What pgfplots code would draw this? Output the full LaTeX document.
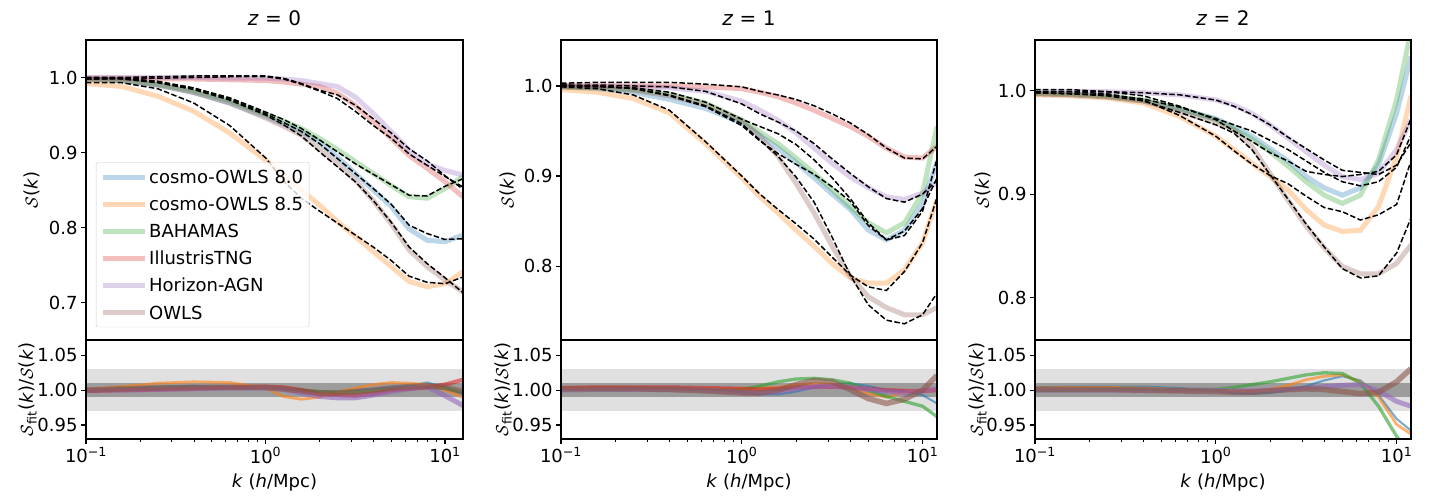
\documentclass[border=0pt]{standalone}
\usepackage{fontspec}
\setmainfont{DejaVu Sans}
\usepackage{pgfplots}
\usepackage{pgfplotstable}
\pgfplotsset{compat=1.18}
\definecolor{c0}{HTML}{1F77B4}
\definecolor{c1}{HTML}{FF7F0E}
\definecolor{c2}{HTML}{2CA02C}
\definecolor{c3}{HTML}{D62728}
\definecolor{c4}{HTML}{9467BD}
\definecolor{c5}{HTML}{8C564B}
\definecolor{bandlight}{HTML}{E0E0E0}
\definecolor{banddark}{HTML}{9C9C9C}
\newcommand{\myfs}{\fontsize{18pt}{21.6pt}\selectfont}
\newcommand{\mytfs}{\fontsize{20pt}{24pt}\selectfont}

% z = 0 : S(k) of each simulation, fits, and fit/S ratios
\pgfplotstableread{
k      b     o     g     r     p     w     fb    fo    fg    fr    fp    fw    rb    ro    rg    rr    rp    rw
0.1    0.998 0.992 0.998 0.999 1.000 0.998 0.999 0.993 0.998 0.998 1.000 0.998 1.001 1.001 1.000 0.999 1.000 1.000
0.1585 0.996 0.988 0.997 0.999 1.000 0.996 0.999 0.993 0.999 0.999 1.000 0.998 1.003 1.005 1.002 1.000 1.000 1.002
0.2512 0.990 0.975 0.991 0.998 1.000 0.990 0.995 0.985 0.994 0.999 1.001 0.993 1.005 1.010 1.003 1.001 1.001 1.003
0.3981 0.980 0.955 0.982 0.998 1.000 0.980 0.986 0.966 0.986 1.000 1.002 0.984 1.006 1.012 1.004 1.002 1.002 1.004
0.631  0.966 0.926 0.969 0.997 0.999 0.966 0.971 0.936 0.973 1.001 1.002 0.970 1.005 1.011 1.004 1.004 1.003 1.004
1.0    0.948 0.890 0.951 0.996 0.999 0.946 0.952 0.893 0.954 1.001 1.002 0.950 1.004 1.003 1.003 1.005 1.003 1.004
1.259  0.938 0.870 0.942 0.994 0.998 0.935 0.940 0.862 0.944 0.998 0.999 0.937 1.002 0.991 1.002 1.004 1.001 1.002
1.585  0.928 0.850 0.932 0.991 0.996 0.923 0.928 0.839 0.932 0.991 0.992 0.922 1.000 0.987 1.000 1.000 0.996 0.999
1.995  0.914 0.830 0.919 0.988 0.992 0.905 0.912 0.822 0.917 0.982 0.983 0.901 0.998 0.990 0.998 0.994 0.991 0.996
2.512  0.894 0.808 0.904 0.979 0.988 0.885 0.892 0.806 0.901 0.972 0.977 0.881 0.998 0.997 0.997 0.993 0.989 0.996
3.162  0.872 0.788 0.888 0.963 0.974 0.863 0.872 0.790 0.885 0.955 0.963 0.861 1.000 1.003 0.997 0.992 0.989 0.998
3.981  0.850 0.768 0.872 0.941 0.952 0.836 0.852 0.774 0.871 0.936 0.945 0.836 1.002 1.008 0.999 0.995 0.993 1.000
5.012  0.828 0.748 0.856 0.919 0.928 0.805 0.831 0.756 0.857 0.919 0.926 0.807 1.004 1.011 1.001 1.000 0.998 1.003
6.310  0.798 0.728 0.841 0.896 0.903 0.770 0.803 0.735 0.843 0.898 0.905 0.774 1.006 1.010 1.002 1.002 1.002 1.005
7.943  0.783 0.721 0.839 0.879 0.885 0.748 0.792 0.727 0.842 0.883 0.889 0.752 1.011 1.008 1.004 1.004 1.005 1.006
10.0   0.781 0.725 0.852 0.861 0.876 0.730 0.784 0.725 0.855 0.868 0.869 0.733 1.004 1.000 1.003 1.008 0.992 1.004
12.59  0.790 0.741 0.868 0.841 0.870 0.714 0.785 0.734 0.865 0.854 0.851 0.713 0.994 0.990 0.997 1.015 0.978 0.998
}\tzero

% z = 1
\pgfplotstableread{
k      b     o     g     r     p     w     fb    fo    fg    fr    fp    fw    rb    ro    rg    rr    rp    rw
0.1    0.999 0.996 0.999 1.000 1.000 0.999 1.001 0.999 1.000 1.003 1.000 1.001 1.002 1.003 1.001 1.003 1.000 1.002
0.1585 0.997 0.993 0.998 1.000 1.000 0.998 1.000 0.997 0.999 1.004 1.001 1.000 1.003 1.004 1.001 1.004 1.001 1.002
0.2512 0.993 0.986 0.996 1.000 0.999 0.995 0.997 0.990 0.998 1.004 1.000 0.997 1.004 1.004 1.002 1.004 1.001 1.002
0.3981 0.985 0.970 0.991 1.000 0.998 0.989 0.989 0.973 0.993 1.004 0.999 0.990 1.004 1.003 1.002 1.004 1.001 1.001
0.631  0.975 0.936 0.981 0.999 0.994 0.979 0.977 0.938 0.982 1.002 0.994 0.978 1.002 1.002 1.001 1.003 1.000 0.999
1.0    0.959 0.898 0.962 0.997 0.983 0.962 0.956 0.900 0.963 0.999 0.980 0.958 0.997 1.002 1.001 1.002 0.997 0.996
1.259  0.945 0.877 0.949 0.993 0.973 0.944 0.939 0.880 0.955 0.994 0.969 0.940 0.994 1.003 1.006 1.001 0.996 0.996
1.585  0.931 0.859 0.936 0.988 0.962 0.922 0.925 0.863 0.947 0.990 0.960 0.922 0.994 1.004 1.012 1.002 0.998 1.000
1.995  0.915 0.840 0.920 0.981 0.948 0.892 0.913 0.847 0.935 0.985 0.950 0.899 0.998 1.008 1.016 1.004 1.002 1.008
2.512  0.898 0.822 0.903 0.973 0.931 0.859 0.902 0.830 0.918 0.978 0.936 0.871 1.004 1.010 1.017 1.005 1.005 1.014
3.162  0.880 0.803 0.885 0.964 0.914 0.822 0.888 0.810 0.898 0.969 0.919 0.832 1.009 1.009 1.015 1.005 1.006 1.012
3.981  0.863 0.787 0.866 0.955 0.899 0.789 0.872 0.790 0.875 0.959 0.903 0.790 1.010 1.004 1.010 1.004 1.004 1.001
5.012  0.840 0.781 0.848 0.944 0.887 0.766 0.845 0.777 0.848 0.946 0.888 0.757 1.006 0.995 1.000 1.002 1.001 0.988
6.310  0.829 0.781 0.837 0.931 0.877 0.754 0.829 0.773 0.829 0.931 0.875 0.740 1.000 0.990 0.991 1.000 0.998 0.981
7.943  0.840 0.796 0.848 0.921 0.874 0.746 0.839 0.794 0.834 0.920 0.871 0.736 0.999 0.997 0.984 0.999 0.996 0.987
10.0   0.870 0.826 0.881 0.920 0.881 0.746 0.864 0.826 0.861 0.919 0.880 0.746 0.993 1.000 0.977 0.999 0.999 1.000
12.02  0.915 0.874 0.955 0.933 0.893 0.754 0.898 0.876 0.919 0.933 0.895 0.770 0.981 1.002 0.962 1.000 1.002 1.021
}\tone

% z = 2 (no IllustrisTNG)
\pgfplotstableread{
k      b     o     g     p     w     fb    fo    fg    fp    fw    rb    ro    rg    rp    rw
0.1    0.997 0.996 0.998 0.999 0.997 1.001 0.999 0.998 0.999 0.998 1.004 1.003 1.000 1.000 1.001
0.1585 0.996 0.995 0.997 0.999 0.996 1.001 0.999 0.997 0.999 0.997 1.005 1.004 1.000 1.000 1.001
0.2512 0.994 0.993 0.995 0.999 0.994 0.999 0.997 0.996 0.999 0.995 1.005 1.004 1.001 1.000 1.001
0.3981 0.990 0.988 0.991 0.998 0.990 0.995 0.991 0.992 0.998 0.990 1.005 1.003 1.001 1.000 1.000
0.631  0.982 0.975 0.983 0.996 0.980 0.985 0.976 0.984 0.996 0.979 1.003 1.001 1.001 1.000 0.999
1.0    0.973 0.956 0.972 0.991 0.969 0.972 0.956 0.973 0.991 0.967 0.999 1.000 1.001 1.000 0.998
1.259  0.965 0.943 0.963 0.986 0.962 0.961 0.942 0.967 0.985 0.959 0.996 0.999 1.004 0.999 0.997
1.585  0.956 0.930 0.953 0.978 0.946 0.951 0.929 0.961 0.977 0.943 0.995 0.999 1.008 0.999 0.997
1.995  0.944 0.917 0.941 0.967 0.920 0.940 0.918 0.952 0.967 0.919 0.996 1.001 1.012 1.000 0.999
2.512  0.932 0.904 0.927 0.954 0.894 0.932 0.910 0.943 0.955 0.895 1.000 1.007 1.017 1.001 1.001
3.162  0.917 0.885 0.912 0.941 0.869 0.922 0.898 0.932 0.944 0.871 1.006 1.015 1.022 1.003 1.002
3.981  0.906 0.870 0.899 0.928 0.848 0.919 0.887 0.921 0.933 0.849 1.014 1.020 1.025 1.005 1.001
5.012  0.899 0.864 0.891 0.917 0.830 0.917 0.883 0.912 0.923 0.828 1.020 1.022 1.024 1.007 0.998
6.310  0.906 0.865 0.899 0.914 0.823 0.919 0.875 0.908 0.921 0.819 1.014 1.012 1.010 1.008 0.995
7.943  0.928 0.888 0.933 0.920 0.823 0.922 0.880 0.912 0.919 0.821 0.993 0.991 0.977 0.999 0.997
10.0   0.978 0.936 0.991 0.943 0.833 0.938 0.890 0.926 0.928 0.843 0.959 0.951 0.934 0.984 1.012
12.02  1.033 0.995 1.058 0.972 0.851 0.973 0.932 0.957 0.950 0.877 0.942 0.937 0.905 0.977 1.031
}\ttwo

\begin{document}
\begin{tikzpicture}
\path[use as bounding box] (0,0) rectangle (1440pt,500pt);

% ---------------- z = 0 top ----------------
\begin{axis}[scale only axis, width=377pt, height=300pt, at={(86pt,160pt)}, anchor=south west,
  xmode=log, xmin=0.1, xmax=12.59, ymin=0.65, ymax=1.05,
  axis on top, axis line style={line width=2.5pt},
  tick align=outside, ytick pos=left, xtick=\empty,
  major tick length=5pt, major tick style={black, line width=1.2pt},
  ytick={0.7,0.8,0.9,1.0}, yticklabels={0.7,0.8,0.9,1.0},
  yticklabel style={font=\myfs},
  title={\textit{z} = 0},
  title style={font=\mytfs, at={(0.5,1)}, anchor=base, yshift=8.5pt},
  ylabel={$\mathcal{S}$(\textit{k})},
  ylabel style={font=\myfs, at={(axis description cs:-0.143,0.5)}, anchor=center},
  legend cell align=left,
  legend image code/.code={\draw[#1] (0pt,0pt) -- (42pt,0pt);},
  legend style={at={(axis description cs:0.0265,0.593)}, anchor=north west,
    font=\myfs, draw=black!20, fill=white, fill opacity=0.8, text opacity=1,
    rounded corners=2pt,
    inner xsep=4pt, inner ysep=4.5pt, row sep=6.4pt}]
\addplot[c0, line width=5pt, draw opacity=0.3] table[x=k,y=b]{\tzero}; \addlegendentry{\strut cosmo-OWLS 8.0}
\addplot[c1, line width=5pt, draw opacity=0.3] table[x=k,y=o]{\tzero}; \addlegendentry{\strut cosmo-OWLS 8.5}
\addplot[c2, line width=5pt, draw opacity=0.3] table[x=k,y=g]{\tzero}; \addlegendentry{\strut BAHAMAS}
\addplot[c3, line width=5pt, draw opacity=0.3] table[x=k,y=r]{\tzero}; \addlegendentry{\strut IllustrisTNG}
\addplot[c4, line width=5pt, draw opacity=0.3] table[x=k,y=p]{\tzero}; \addlegendentry{\strut Horizon-AGN}
\addplot[c5, line width=5pt, draw opacity=0.3] table[x=k,y=w]{\tzero}; \addlegendentry{\strut OWLS}
\addplot[black, line width=1.5pt, dash pattern=on 5.5pt off 2.4pt, forget plot] table[x=k,y=fb]{\tzero};
\addplot[black, line width=1.5pt, dash pattern=on 5.5pt off 2.4pt, forget plot] table[x=k,y=fo]{\tzero};
\addplot[black, line width=1.5pt, dash pattern=on 5.5pt off 2.4pt, forget plot] table[x=k,y=fg]{\tzero};
\addplot[black, line width=1.5pt, dash pattern=on 5.5pt off 2.4pt, forget plot] table[x=k,y=fr]{\tzero};
\addplot[black, line width=1.5pt, dash pattern=on 5.5pt off 2.4pt, forget plot] table[x=k,y=fp]{\tzero};
\addplot[black, line width=1.5pt, dash pattern=on 5.5pt off 2.4pt, forget plot] table[x=k,y=fw]{\tzero};
\end{axis}

% ---------------- z = 0 bottom ----------------
\begin{axis}[scale only axis, width=377pt, height=99pt, at={(86pt,61pt)}, anchor=south west,
  xmode=log, xmin=0.1, xmax=12.59, ymin=0.93, ymax=1.072,
  axis on top, axis line style={line width=2.5pt},
  tick align=outside, xtick pos=bottom, ytick pos=left,
  major tick length=5pt, minor tick length=3pt,
  major tick style={black, line width=1.2pt}, minor tick style={black, line width=0.8pt},
  ytick={0.95,1.0,1.05}, yticklabels={0.95,1.00,1.05},
  xtick={0.1,1,10}, xticklabels={10\textsuperscript{−1},10\textsuperscript{0},10\textsuperscript{1}},
  ticklabel style={font=\myfs},
  xlabel={\textit{k} (\textit{h}/Mpc)},
  xlabel style={font=\myfs, at={(axis description cs:0.5,0)}, anchor=base, yshift=-49pt},
  ylabel={$\mathcal{S}$\textsubscript{fit}(\textit{k})/$\mathcal{S}$(\textit{k})},
  ylabel style={font=\myfs, at={(axis description cs:-0.154,0.5)}, anchor=center}]
\addplot[draw=none, fill=bandlight, forget plot] coordinates {(0.1,0.97) (13,0.97) (13,1.03) (0.1,1.03)} -- cycle;
\addplot[draw=none, fill=banddark, forget plot] coordinates {(0.1,0.99) (13,0.99) (13,1.01) (0.1,1.01)} -- cycle;
\addplot[c0, line width=2.1pt, draw opacity=0.6] table[x=k,y=rb]{\tzero};
\addplot[c1, line width=2.8pt, draw opacity=0.6] table[x=k,y=ro]{\tzero};
\addplot[c2, line width=3.3pt, draw opacity=0.6] table[x=k,y=rg]{\tzero};
\addplot[c3, line width=4.2pt, draw opacity=0.6] table[x=k,y=rr]{\tzero};
\addplot[c4, line width=4.9pt, draw opacity=0.6] table[x=k,y=rp]{\tzero};
\addplot[c5, line width=5.6pt, draw opacity=0.6] table[x=k,y=rw]{\tzero};
\end{axis}

% ---------------- z = 1 top ----------------
\begin{axis}[scale only axis, width=376pt, height=300pt, at={(561pt,160pt)}, anchor=south west,
  xmode=log, xmin=0.1, xmax=12.02, ymin=0.718, ymax=1.051,
  axis on top, axis line style={line width=2.5pt},
  tick align=outside, ytick pos=left, xtick=\empty,
  major tick length=5pt, major tick style={black, line width=1.2pt},
  ytick={0.8,0.9,1.0}, yticklabels={0.8,0.9,1.0},
  yticklabel style={font=\myfs},
  title={\textit{z} = 1},
  title style={font=\mytfs, at={(0.5,1)}, anchor=base, yshift=8.5pt},
  ylabel={$\mathcal{S}$(\textit{k})},
  ylabel style={font=\myfs, at={(axis description cs:-0.141,0.5)}, anchor=center}]
\addplot[c0, line width=5pt, draw opacity=0.3] table[x=k,y=b]{\tone};
\addplot[c1, line width=5pt, draw opacity=0.3] table[x=k,y=o]{\tone};
\addplot[c2, line width=5pt, draw opacity=0.3] table[x=k,y=g]{\tone};
\addplot[c3, line width=5pt, draw opacity=0.3] table[x=k,y=r]{\tone};
\addplot[c4, line width=5pt, draw opacity=0.3] table[x=k,y=p]{\tone};
\addplot[c5, line width=5pt, draw opacity=0.3] table[x=k,y=w]{\tone};
\addplot[black, line width=1.5pt, dash pattern=on 5.5pt off 2.4pt] table[x=k,y=fb]{\tone};
\addplot[black, line width=1.5pt, dash pattern=on 5.5pt off 2.4pt] table[x=k,y=fo]{\tone};
\addplot[black, line width=1.5pt, dash pattern=on 5.5pt off 2.4pt] table[x=k,y=fg]{\tone};
\addplot[black, line width=1.5pt, dash pattern=on 5.5pt off 2.4pt] table[x=k,y=fr]{\tone};
\addplot[black, line width=1.5pt, dash pattern=on 5.5pt off 2.4pt] table[x=k,y=fp]{\tone};
\addplot[black, line width=1.5pt, dash pattern=on 5.5pt off 2.4pt] table[x=k,y=fw]{\tone};
\end{axis}

% ---------------- z = 1 bottom ----------------
\begin{axis}[scale only axis, width=376pt, height=99pt, at={(561pt,61pt)}, anchor=south west,
  xmode=log, xmin=0.1, xmax=12.02, ymin=0.93, ymax=1.072,
  axis on top, axis line style={line width=2.5pt},
  tick align=outside, xtick pos=bottom, ytick pos=left,
  major tick length=5pt, minor tick length=3pt,
  major tick style={black, line width=1.2pt}, minor tick style={black, line width=0.8pt},
  ytick={0.95,1.0,1.05}, yticklabels={0.95,1.00,1.05},
  xtick={0.1,1,10}, xticklabels={10\textsuperscript{−1},10\textsuperscript{0},10\textsuperscript{1}},
  ticklabel style={font=\myfs},
  xlabel={\textit{k} (\textit{h}/Mpc)},
  xlabel style={font=\myfs, at={(axis description cs:0.5,0)}, anchor=base, yshift=-49pt},
  ylabel={$\mathcal{S}$\textsubscript{fit}(\textit{k})/$\mathcal{S}$(\textit{k})},
  ylabel style={font=\myfs, at={(axis description cs:-0.154,0.5)}, anchor=center}]
\addplot[draw=none, fill=bandlight] coordinates {(0.1,0.97) (13,0.97) (13,1.03) (0.1,1.03)} -- cycle;
\addplot[draw=none, fill=banddark] coordinates {(0.1,0.99) (13,0.99) (13,1.01) (0.1,1.01)} -- cycle;
\addplot[c0, line width=2.1pt, draw opacity=0.6] table[x=k,y=rb]{\tone};
\addplot[c1, line width=2.8pt, draw opacity=0.6] table[x=k,y=ro]{\tone};
\addplot[c2, line width=3.3pt, draw opacity=0.6] table[x=k,y=rg]{\tone};
\addplot[c3, line width=4.2pt, draw opacity=0.6] table[x=k,y=rr]{\tone};
\addplot[c4, line width=4.9pt, draw opacity=0.6] table[x=k,y=rp]{\tone};
\addplot[c5, line width=5.6pt, draw opacity=0.6] table[x=k,y=rw]{\tone};
\end{axis}

% ---------------- z = 2 top ----------------
\begin{axis}[scale only axis, width=376pt, height=300pt, at={(1035pt,160pt)}, anchor=south west,
  xmode=log, xmin=0.1, xmax=12.02, ymin=0.759, ymax=1.049,
  axis on top, axis line style={line width=2.5pt},
  tick align=outside, ytick pos=left, xtick=\empty,
  major tick length=5pt, major tick style={black, line width=1.2pt},
  ytick={0.8,0.9,1.0}, yticklabels={0.8,0.9,1.0},
  yticklabel style={font=\myfs},
  title={\textit{z} = 2},
  title style={font=\mytfs, at={(0.5,1)}, anchor=base, yshift=8.5pt},
  ylabel={$\mathcal{S}$(\textit{k})},
  ylabel style={font=\myfs, at={(axis description cs:-0.138,0.5)}, anchor=center}]
\addplot[c0, line width=5pt, draw opacity=0.3] table[x=k,y=b]{\ttwo};
\addplot[c1, line width=5pt, draw opacity=0.3] table[x=k,y=o]{\ttwo};
\addplot[c2, line width=5pt, draw opacity=0.3] table[x=k,y=g]{\ttwo};
\addplot[c4, line width=5pt, draw opacity=0.3] table[x=k,y=p]{\ttwo};
\addplot[c5, line width=5pt, draw opacity=0.3] table[x=k,y=w]{\ttwo};
\addplot[black, line width=1.5pt, dash pattern=on 5.5pt off 2.4pt] table[x=k,y=fb]{\ttwo};
\addplot[black, line width=1.5pt, dash pattern=on 5.5pt off 2.4pt] table[x=k,y=fo]{\ttwo};
\addplot[black, line width=1.5pt, dash pattern=on 5.5pt off 2.4pt] table[x=k,y=fg]{\ttwo};
\addplot[black, line width=1.5pt, dash pattern=on 5.5pt off 2.4pt] table[x=k,y=fp]{\ttwo};
\addplot[black, line width=1.5pt, dash pattern=on 5.5pt off 2.4pt] table[x=k,y=fw]{\ttwo};
\end{axis}

% ---------------- z = 2 bottom ----------------
\begin{axis}[scale only axis, width=376pt, height=99pt, at={(1035pt,61pt)}, anchor=south west,
  xmode=log, xmin=0.1, xmax=12.02, ymin=0.93, ymax=1.072,
  axis on top, axis line style={line width=2.5pt},
  tick align=outside, xtick pos=bottom, ytick pos=left,
  major tick length=5pt, minor tick length=3pt,
  major tick style={black, line width=1.2pt}, minor tick style={black, line width=0.8pt},
  ytick={0.95,1.0,1.05}, yticklabels={0.95,1.00,1.05},
  xtick={0.1,1,10}, xticklabels={10\textsuperscript{−1},10\textsuperscript{0},10\textsuperscript{1}},
  ticklabel style={font=\myfs},
  xlabel={\textit{k} (\textit{h}/Mpc)},
  xlabel style={font=\myfs, at={(axis description cs:0.5,0)}, anchor=base, yshift=-49pt},
  ylabel={$\mathcal{S}$\textsubscript{fit}(\textit{k})/$\mathcal{S}$(\textit{k})},
  ylabel style={font=\myfs, at={(axis description cs:-0.152,0.5)}, anchor=center}]
\addplot[draw=none, fill=bandlight] coordinates {(0.1,0.97) (13,0.97) (13,1.03) (0.1,1.03)} -- cycle;
\addplot[draw=none, fill=banddark] coordinates {(0.1,0.99) (13,0.99) (13,1.01) (0.1,1.01)} -- cycle;
\addplot[c0, line width=2.1pt, draw opacity=0.6] table[x=k,y=rb]{\ttwo};
\addplot[c1, line width=2.8pt, draw opacity=0.6] table[x=k,y=ro]{\ttwo};
\addplot[c2, line width=3.3pt, draw opacity=0.6] table[x=k,y=rg]{\ttwo};
\addplot[c4, line width=4.9pt, draw opacity=0.6] table[x=k,y=rp]{\ttwo};
\addplot[c5, line width=5.6pt, draw opacity=0.6] table[x=k,y=rw]{\ttwo};
\end{axis}
\end{tikzpicture}
\end{document}
